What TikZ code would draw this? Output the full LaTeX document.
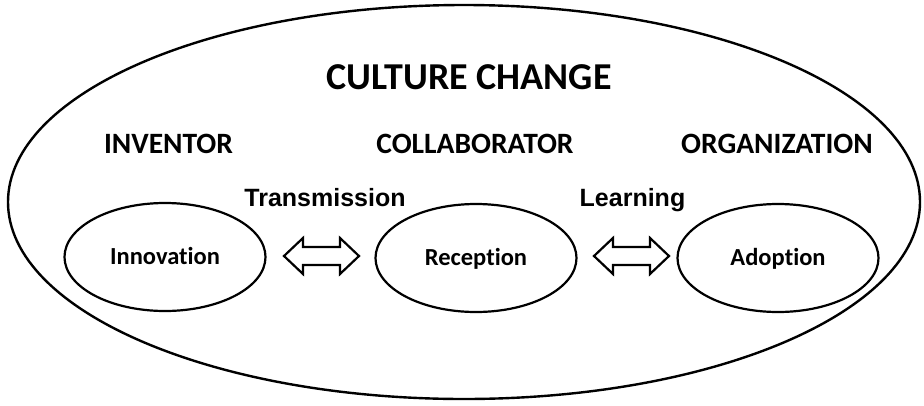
\documentclass[tikz,border=0pt]{standalone}
\usepackage{fontspec}
\setmainfont{Carlito}[Ligatures={NoCommon}]
\newfontfamily\arialfont{Liberation Sans}
\usetikzlibrary{shapes.geometric}
\begin{document}
\begin{tikzpicture}[x=1pt,y=-1pt,
  stage/.style={draw,line width=2.2pt,ellipse,minimum width=201pt,minimum height=108pt,inner sep=0pt,
    font=\bfseries\fontsize{24.5}{28}\selectfont,text height=15.8pt,text depth=0pt},
  role/.style={font=\bfseries\fontsize{29.5}{34}\selectfont,inner sep=0pt,anchor=base},
  proc/.style={font=\arialfont\bfseries\fontsize{25}{30}\selectfont,inner sep=0pt,anchor=base},
  title/.style={font=\bfseries\fontsize{38}{44}\selectfont,inner sep=0pt,anchor=base},
  dblarrow/.style={draw,line width=2.2pt,line join=miter,fill=white}
]
\useasboundingbox (0,0) rectangle (924,405);
\draw[line width=2.4pt] (464,202) ellipse [x radius=456, y radius=197];
\node[title] (cc) at (469,89) {CULTURE CHANGE};
\node[role] (inv) at (168.5,153) {INVENTOR};
\node[role] (col) at (475,153) {COLLABORATOR};
\node[role] (org) at (777,153) {ORGANIZATION};
\node[proc] (tr) at (325,206.5) {Transmission};
\node[proc] (le) at (632.5,206.5) {Learning};
\node[stage] (inno) at (165,257) {Innovation};
\node[stage] (rec) at (476,258) {Reception};
\node[stage] (ado) at (778,258) {Adoption};
\coordinate (a1) at (321.5,256);
\coordinate (a2) at (631.5,256);
\foreach \c in {a1,a2}{
  \draw[dblarrow] (\c) ++(-37.5,0) -- ++(19,-18) -- ++(0,9) -- ++(37,0) -- ++(0,-9) -- ++(19,18) -- ++(-19,18) -- ++(0,-9) -- ++(-37,0) -- ++(0,9) -- cycle;
}
\end{tikzpicture}
\end{document}
